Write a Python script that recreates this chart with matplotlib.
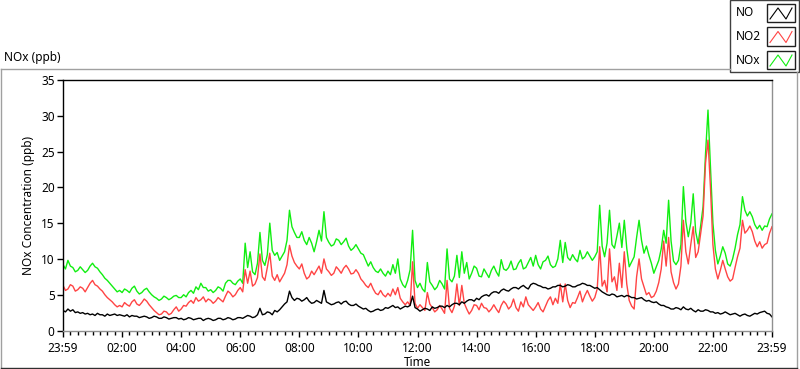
import matplotlib
matplotlib.use('Agg')
import matplotlib.pyplot as plt
from matplotlib.lines import Line2D
from matplotlib.patches import Rectangle

plt.rcParams['font.family'] = ['Noto Sans', 'DejaVu Sans']

W, H = 800, 369

# readings every 5 minutes (ppb); one row per hour
step_minutes = 5
no = [2.8, 2.6, 3.0, 2.7, 2.9, 2.5, 2.6, 2.4, 2.5, 2.3, 2.4, 2.2,
      2.3, 2.1, 2.4, 2.2, 2.2, 2.0, 2.3, 2.1, 2.2, 2.3, 2.1, 2.2,
      2.1, 2.0, 2.2, 1.9, 2.1, 2.0, 2.0, 1.8, 1.9, 2.0, 1.9, 1.7,
      1.8, 2.0, 1.9, 1.7, 1.7, 1.9, 1.8, 1.6, 1.7, 1.8, 1.8, 1.6,
      1.7, 1.5, 1.6, 1.8, 1.7, 1.5, 1.6, 1.7, 1.7, 1.4, 1.6, 1.7,
      1.6, 1.4, 1.5, 1.7, 1.7, 1.5, 1.6, 1.8, 1.7, 1.5, 1.6, 1.8,
      1.8, 1.7, 1.9, 2.1, 2.0, 1.8, 1.9, 2.2, 3.1, 2.2, 2.3, 2.6,
      2.5, 2.2, 2.8, 2.6, 2.9, 3.3, 3.7, 4.0, 5.5, 4.6, 4.2, 4.5,
      4.4, 4.1, 4.3, 4.6, 4.1, 3.8, 3.9, 4.2, 4.0, 3.8, 5.6, 4.0,
      3.8, 3.6, 3.7, 3.9, 4.0, 3.7, 4.0, 4.1, 3.7, 3.5, 3.5, 3.7,
      3.4, 3.2, 3.0, 3.1, 2.8, 2.6, 2.7, 2.9, 3.0, 2.8, 2.9, 3.2,
      3.1, 3.3, 3.5, 3.2, 3.3, 3.0, 3.2, 3.4, 3.3, 3.5, 4.8, 3.2,
      3.0, 2.7, 2.9, 3.1, 3.0, 2.8, 3.3, 3.1, 3.2, 3.4, 3.4, 3.2,
      3.5, 3.3, 3.6, 3.8, 3.8, 3.6, 4.0, 3.8, 4.1, 4.3, 4.3, 4.1,
      4.5, 4.3, 4.7, 4.9, 5.0, 4.8, 5.2, 5.4, 5.4, 5.2, 5.6, 5.8,
      5.6, 5.5, 5.8, 6.0, 6.0, 5.8, 6.1, 6.3, 6.0, 5.8, 6.4, 6.6,
      6.5, 6.3, 6.2, 6.0, 6.0, 5.8, 5.9, 6.1, 6.1, 6.3, 6.3, 6.1,
      6.2, 6.4, 6.3, 6.1, 6.1, 6.3, 6.4, 6.6, 6.5, 6.3, 6.3, 6.1,
      5.9, 6.0, 5.7, 5.4, 5.2, 5.0, 4.9, 5.1, 5.0, 4.7, 4.8, 4.9,
      4.7, 4.9, 4.8, 4.6, 4.6, 4.4, 4.5, 4.6, 4.3, 4.1, 4.2, 4.0,
      3.9, 4.0, 3.7, 3.5, 3.5, 3.3, 3.2, 3.0, 3.0, 3.2, 3.1, 2.9,
      3.3, 3.0, 2.9, 3.1, 2.8, 2.6, 2.9, 2.7, 2.7, 2.9, 2.8, 2.6,
      2.6, 2.4, 2.5, 2.3, 2.4, 2.6, 2.4, 2.2, 2.3, 2.4, 2.2, 2.0,
      2.2, 2.3, 2.1, 2.0, 2.2, 2.4, 2.3, 2.5, 2.6, 2.7, 2.4, 2.3,
      1.9]
no2 = [6.3, 5.6, 5.8, 6.4, 6.2, 5.5, 5.7, 6.1, 5.9, 5.4, 6.0, 6.6,
       7.0, 6.4, 6.2, 5.8, 5.5, 5.0, 4.6, 4.3, 4.0, 3.6, 3.3, 3.5,
       3.3, 3.9, 3.6, 3.4, 4.0, 4.3, 3.7, 3.5, 3.9, 4.4, 4.1, 3.6,
       3.2, 2.8, 2.5, 2.2, 2.3, 2.7, 2.6, 2.2, 2.4, 2.9, 3.3, 2.7,
       3.0, 3.5, 3.4, 3.9, 4.2, 3.8, 4.6, 4.1, 4.3, 4.7, 4.0, 4.4,
       4.2, 3.8, 4.1, 4.6, 4.3, 4.0, 4.8, 5.5, 5.2, 4.7, 5.0, 5.6,
       6.0, 5.4, 8.5, 6.6, 8.3, 6.2, 6.5, 7.4, 10.7, 7.5, 7.0, 8.8,
       10.8, 7.6, 7.0, 7.8, 6.8, 7.4, 8.0, 9.2, 11.9, 10.4, 9.5, 9.0,
       8.6, 9.3, 8.0, 7.2, 7.5, 8.3, 7.8, 8.4, 9.0, 8.0, 10.0, 8.6,
       8.2, 7.7, 8.0, 8.9, 8.5, 8.0, 8.7, 9.1, 8.6, 7.9, 8.0, 8.5,
       8.0, 7.2, 6.8, 6.3, 6.0, 6.6, 5.8, 5.2, 5.0, 5.6, 5.0, 4.7,
       5.2, 4.8, 5.8, 5.0, 6.0, 4.5, 4.0, 3.6, 4.0, 3.5, 9.6, 3.8,
       3.1, 3.6, 3.2, 2.8, 5.3, 3.7, 3.2, 2.6, 2.9, 3.5, 3.0, 2.4,
       7.0, 3.1, 2.5, 3.4, 6.5, 3.5, 6.3, 3.8, 3.0, 2.3, 2.8, 3.6,
       3.5, 2.9, 3.8, 3.2, 3.1, 2.6, 3.0, 3.6, 3.0, 2.5, 3.5, 4.1,
       3.7, 3.0, 3.4, 4.4, 3.2, 2.7, 4.0, 3.3, 4.7, 3.6, 3.2, 2.8,
       3.3, 3.9, 3.0, 2.6, 3.4, 4.2, 4.7, 3.6, 4.5, 3.8, 6.5, 4.0,
       6.5, 4.2, 3.2, 3.9, 3.8, 4.6, 5.5, 4.0, 4.9, 5.6, 4.8, 4.1,
       4.6, 5.8, 11.7, 6.2, 7.0, 5.4, 11.4, 6.8, 7.5, 5.6, 9.4, 6.0,
       11.0, 6.5, 4.2, 3.4, 3.0, 7.5, 10.0, 7.2, 6.1, 5.0, 5.3, 4.6,
       4.8, 5.5, 6.7, 8.6, 12.5, 9.0, 13.0, 8.2, 6.7, 5.8, 6.5, 9.0,
       15.4, 11.0, 9.3, 12.0, 14.5, 10.2, 11.0, 13.5, 16.0, 23.4, 26.6, 20.0,
       12.0, 8.6, 7.2, 8.4, 9.8, 8.6, 7.5, 6.9, 7.2, 8.8, 10.3, 11.5,
       15.4, 13.6, 14.0, 14.6, 13.8, 12.5, 11.7, 12.4, 11.5, 12.0, 12.2, 13.6,
       14.5]
nox = [9.2, 8.6, 9.8, 9.0, 8.8, 8.2, 8.4, 8.9, 8.5, 8.1, 8.4, 9.0,
       9.4, 8.9, 8.7, 8.2, 7.8, 7.3, 7.0, 6.6, 6.2, 5.8, 5.4, 5.6,
       5.3, 5.8, 5.6, 5.3, 5.9, 6.2, 5.5, 5.1, 5.3, 5.7, 5.9, 5.4,
       5.0, 4.7, 4.5, 4.2, 4.4, 4.8, 4.6, 4.3, 4.5, 4.8, 4.9, 4.6,
       4.6, 5.0, 4.7, 5.3, 5.6, 5.2, 6.1, 5.7, 6.6, 6.0, 6.0, 5.5,
       5.7, 5.3, 5.6, 6.1, 5.9, 5.5, 6.6, 7.0, 7.0, 6.6, 6.4, 6.9,
       7.2, 6.6, 12.2, 8.8, 11.0, 8.2, 7.8, 9.4, 13.7, 9.8, 9.1, 10.6,
       15.0, 11.2, 10.5, 10.9, 9.8, 10.4, 11.0, 12.6, 16.8, 14.5, 13.7, 13.0,
       13.0, 13.8, 12.6, 12.0, 13.0, 12.2, 11.0, 12.4, 14.0, 12.5, 16.6, 13.0,
       12.3, 11.8, 12.0, 12.8, 12.6, 12.0, 12.4, 12.9, 11.8, 11.2, 11.5, 12.0,
       11.4, 10.8, 10.6, 9.8, 9.0, 9.6, 8.8, 8.3, 8.1, 8.6, 8.0, 7.6,
       8.3, 7.8, 9.2, 8.0, 10.0, 7.2, 6.4, 6.0, 7.0, 8.5, 14.0, 7.0,
       6.0, 6.6, 5.8, 5.4, 9.5, 6.8, 6.3, 5.7, 6.1, 7.0, 6.5, 5.8,
       11.4, 7.2, 6.8, 7.6, 10.5, 7.4, 11.0, 8.0, 9.5, 7.2, 8.0, 9.0,
       8.7, 7.6, 7.5, 8.6, 8.0, 7.4, 8.4, 9.0, 8.2, 7.6, 9.9, 8.6,
       8.4, 8.8, 9.7, 8.5, 8.6, 9.4, 9.9, 8.6, 8.8, 9.5, 10.2, 9.0,
       10.5, 9.2, 8.6, 9.6, 9.8, 10.4, 9.2, 8.8, 9.0, 10.0, 12.6, 9.5,
       12.3, 10.2, 9.8, 10.6, 10.0, 9.6, 11.2, 10.0, 10.3, 11.0, 10.4, 9.8,
       10.3, 11.0, 17.5, 11.8, 10.3, 12.2, 16.8, 12.0, 11.5, 13.2, 15.0, 11.6,
       15.4, 11.5, 8.9, 9.6, 10.3, 13.0, 15.4, 12.6, 10.8, 11.8, 10.5, 9.4,
       8.0, 8.9, 9.8, 11.4, 14.0, 12.2, 18.2, 12.5, 9.7, 9.2, 9.8, 12.0,
       20.1, 15.2, 13.1, 15.0, 19.1, 13.8, 12.1, 14.6, 17.3, 24.7, 30.8, 22.9,
       15.0, 11.2, 9.3, 10.4, 11.7, 10.8, 9.3, 9.0, 10.0, 11.5, 13.4, 14.8,
       18.7, 16.8, 16.0, 16.6, 15.9, 14.8, 14.2, 14.7, 14.0, 14.6, 14.5, 15.6,
       16.3]

tick_hours = list(range(0, 25, 2))
tick_labels = ['23:59', '02:00', '04:00', '06:00', '08:00', '10:00', '12:00',
               '14:00', '16:00', '18:00', '20:00', '22:00', '23:59']
names = ['NO', 'NO2', 'NOx']
colors = ['#000000', '#ff4444', '#11ee11']


def fx(px):
    return px / W


def fy(py):
    return 1 - py / H


def hours_of(values):
    return [i * step_minutes / 60 for i in range(len(values))]


fig = plt.figure(figsize=(W / 100, H / 100), dpi=100)

# outer panel frame
fig.add_artist(Line2D([fx(0.5), fx(730)], [fy(69), fy(69)], color='#a0a0a0', lw=1))
fig.add_artist(Line2D([fx(0.5), fx(0.5)], [fy(69), fy(368)], color='#a0a0a0', lw=1))
fig.add_artist(Line2D([fx(797), fx(797)], [fy(72), fy(368)], color='#a0a0a0', lw=1))
fig.add_artist(Line2D([fx(0.5), fx(797)], [fy(368), fy(368)], color='#303030', lw=1))

fig.text(fx(4), fy(57), 'NOx (ppb)', fontsize=8.5, va='center', ha='left')

# legend box
fig.add_artist(Rectangle((fx(730), fy(72)), fx(69), 72 / H, fill=False,
                         edgecolor='#404040', lw=1))
for k, (name, col) in enumerate(zip(names, colors)):
    top = 4 + k * 23.5
    fig.text(fx(736), fy(top + 9), name, fontsize=8.5, va='center', ha='left')
    fig.add_artist(Rectangle((fx(767), fy(top + 18)), fx(28), 18 / H, fill=False,
                             edgecolor='#202020', lw=1))
    zx = [770, 778, 786, 792]
    zy = [top + 15, top + 4, top + 15, top + 4]
    fig.add_artist(Line2D([fx(v) for v in zx], [fy(v) for v in zy], color=col, lw=0.8))

ax = fig.add_axes([fx(63), fy(330.5), fx(772 - 63), (330.5 - 80) / H])
ax.plot(hours_of(nox), nox, color=colors[2], lw=1.0)
ax.plot(hours_of(no2), no2, color=colors[1], lw=1.0)
ax.plot(hours_of(no), no, color=colors[0], lw=1.0)

ax.set_xlim(0, 24)
ax.set_ylim(0, 35)
ax.set_yticks(range(0, 36, 5))
ax.set_xticks(tick_hours)
ax.set_xticklabels(tick_labels)
ax.set_xticks([i / 4 for i in range(97)], minor=True)
ax.tick_params(axis='both', labelsize=8.5, direction='out', color='#000000')
ax.tick_params(axis='y', length=4, width=1, pad=2)
ax.tick_params(axis='x', which='major', length=4, width=1, pad=4)
ax.tick_params(axis='x', which='minor', length=3, width=1)

for side in ['top', 'left']:
    ax.spines[side].set_color('#000000')
for side in ['right', 'bottom']:
    ax.spines[side].set_color('#909090')
for sp in ax.spines.values():
    sp.set_linewidth(1)

ax.set_xlabel('Time', fontsize=8.5, labelpad=1)
ax.set_ylabel('NOx Concentration (ppb)', fontsize=8.5, labelpad=4)

fig.savefig('out.png', dpi=100)
